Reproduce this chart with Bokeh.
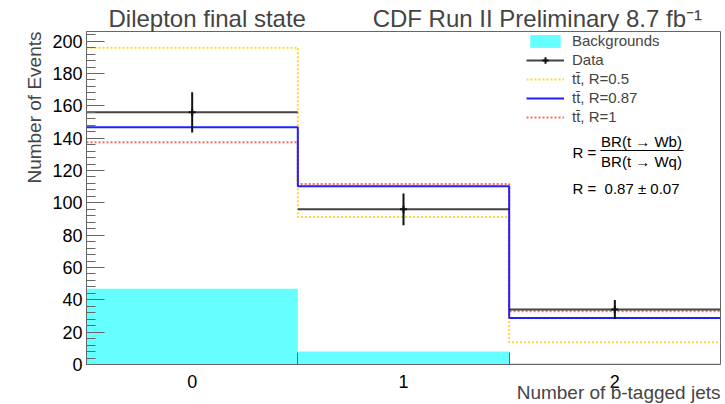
import numpy as np
from bokeh.plotting import figure
from bokeh.models import (Range1d, FixedTicker, SingleIntervalTicker, Label,
                          Legend, LegendItem, Title)
from bokeh.embed import file_html
from bokeh.resources import INLINE

# Number of b-tagged jets per event
nbtag = [0, 1, 2]
tick_labels = ["0", "1", "2"]

# Event yields per b-tag bin
backgrounds = [46.9, 8.0, 0.8]
data_counts = [156, 96, 34]
ttbar_r050 = [196.0, 91.2, 13.8]
ttbar_r087 = [146.7, 110.2, 28.7]
ttbar_r100 = [137.5, 111.6, 33.0]

R_value = 0.87
R_error = 0.07
lumi = 8.7

FONT = "Liberation Sans"
AXIS_COL = "#666666"
NBSP = "\u00a0"

# frame geometry (pixels) and ranges
W, H = 725, 404
FL, FR, FT, FB = 86, 720, 31, 364
XR = (-0.5, 2.5)
YR = (0.0, 206.0)


def px_x(px):
    return XR[0] + (px - FL) / (FR - FL) * (XR[1] - XR[0])


def px_y(py):
    return YR[0] + (FB - py) / (FB - FT) * (YR[1] - YR[0])


centers = np.array(nbtag, dtype=float)
edges = np.concatenate([centers - 0.5, [centers[-1] + 0.5]])


def step_xy(vals):
    xs = np.repeat(edges, 2)[1:-1]
    ys = np.repeat(np.asarray(vals, dtype=float), 2)
    return xs, ys


p = figure(width=W, height=H, output_backend="svg", toolbar_location=None,
           x_range=Range1d(*XR), y_range=Range1d(*YR),
           min_border_left=FL, min_border_right=W - FR,
           min_border_top=FT, min_border_bottom=H - FB)
p.grid.visible = False
p.outline_line_color = AXIS_COL
p.outline_line_width = 1
p.background_fill_color = "white"
p.border_fill_color = "white"

# plot title line
p.title.text = ("Dilepton final state" + NBSP * 10 +
                "CDF Run II Preliminary %.1f fb\u207b\u00b9" % lumi)
p.title.text_font = FONT
p.title.text_font_size = "24px"
p.title.text_font_style = "normal"
p.title.align = "left"
p.title.offset = 22
p.title.standoff = 0

# backgrounds, filled histogram
r_bkg = p.quad(left=edges[:-1], right=edges[1:], bottom=0, top=backgrounds,
               fill_color="#66ffff", line_color=None)

# ttbar predictions for several R hypotheses
xs, ys = step_xy(ttbar_r050)
r050 = p.line(xs, ys, line_color="#ffcc00", line_width=2, line_dash="2 2",
              line_alpha=0.8)
xs, ys = step_xy(ttbar_r100)
r100 = p.line(xs, ys, line_color="#ff4040", line_width=2, line_dash="2 2",
              line_alpha=0.8)
xs, ys = step_xy(ttbar_r087)
r087 = p.line(xs, ys, line_color="#2020ff", line_width=2)

# data with Poisson errors
dc = np.asarray(data_counts, dtype=float)
err = np.sqrt(dc)
r_dh = p.segment(x0=edges[:-1], x1=edges[1:], y0=dc, y1=dc,
                 line_color="#222222", line_width=2, line_alpha=0.85)
p.segment(x0=centers, x1=centers, y0=dc - err, y1=dc + err,
          line_color="#111111", line_width=2)
r_dp = p.scatter(centers, dc, marker="cross", size=7, line_color="#111111",
                 line_width=2)

# axes
p.yaxis.ticker = SingleIntervalTicker(interval=20, num_minor_ticks=5)
p.yaxis.major_tick_in = 18
p.yaxis.major_tick_out = 0
p.yaxis.minor_tick_in = 9
p.yaxis.minor_tick_out = 0
p.xaxis.ticker = FixedTicker(ticks=nbtag, minor_ticks=list(edges[1:-1]))
p.xaxis.major_label_overrides = {t: s for t, s in zip(nbtag, tick_labels)}
p.xaxis.minor_tick_in = 12
p.xaxis.minor_tick_out = 0
for ax in (p.xaxis, p.yaxis):
    ax.axis_line_color = AXIS_COL
    ax.minor_tick_line_color = AXIS_COL
    ax.major_label_text_font = FONT
    ax.major_label_text_font_size = "18px"
    ax.major_label_text_color = "black"
p.yaxis.major_tick_line_color = AXIS_COL
p.xaxis.major_tick_line_color = None
p.yaxis.major_label_standoff = 4
p.xaxis.major_label_standoff = 4

# axis titles, right/top aligned as side titles
p.add_layout(Title(text="Number of b-tagged jets", align="right",
                   text_font=FONT, text_font_size="19px",
                   text_font_style="normal", standoff=-22), "below")
p.add_layout(Title(text="Number of Events", align="right",
                   text_font=FONT, text_font_size="19px",
                   text_font_style="normal", standoff=10), "left")


def add_label(text, px, py, size, align="left", baseline="middle", angle=0.0):
    p.add_layout(Label(x=px_x(px), y=px_y(py), text=text, text_font=FONT,
                       text_font_size=size, text_align=align,
                       text_baseline=baseline, angle=angle, text_color="black"))


# legend
legend = Legend(items=[
    LegendItem(label="Backgrounds", renderers=[r_bkg]),
    LegendItem(label="Data", renderers=[r_dh, r_dp]),
    LegendItem(label="tt̄, R=0.5", renderers=[r050]),
    LegendItem(label="tt̄, R=0.87", renderers=[r087]),
    LegendItem(label="tt̄, R=1", renderers=[r100]),
], location=(440, 333 - 95), padding=0, margin=0, spacing=0,
    glyph_width=38, glyph_height=16, label_height=19, label_standoff=8,
    label_text_font=FONT, label_text_font_size="15px",
    background_fill_alpha=0, border_line_color=None)
p.add_layout(legend)

# definition of R and the measured value
add_label("R =", 572, 152, "15px")
add_label("BR(t → Wb)", 641, 141, "15px", align="center")
add_label("BR(t → Wq)", 641, 161, "15px", align="center")
p.segment(x0=[px_x(600)], x1=[px_x(683)], y0=[px_y(150)], y1=[px_y(150)],
          line_color="black", line_width=1)
add_label("R =" + NBSP + " %.2f ± %.2f" % (R_value, R_error), 572, 188, "15px")

open("out.html", "w").write(file_html(p, INLINE))
